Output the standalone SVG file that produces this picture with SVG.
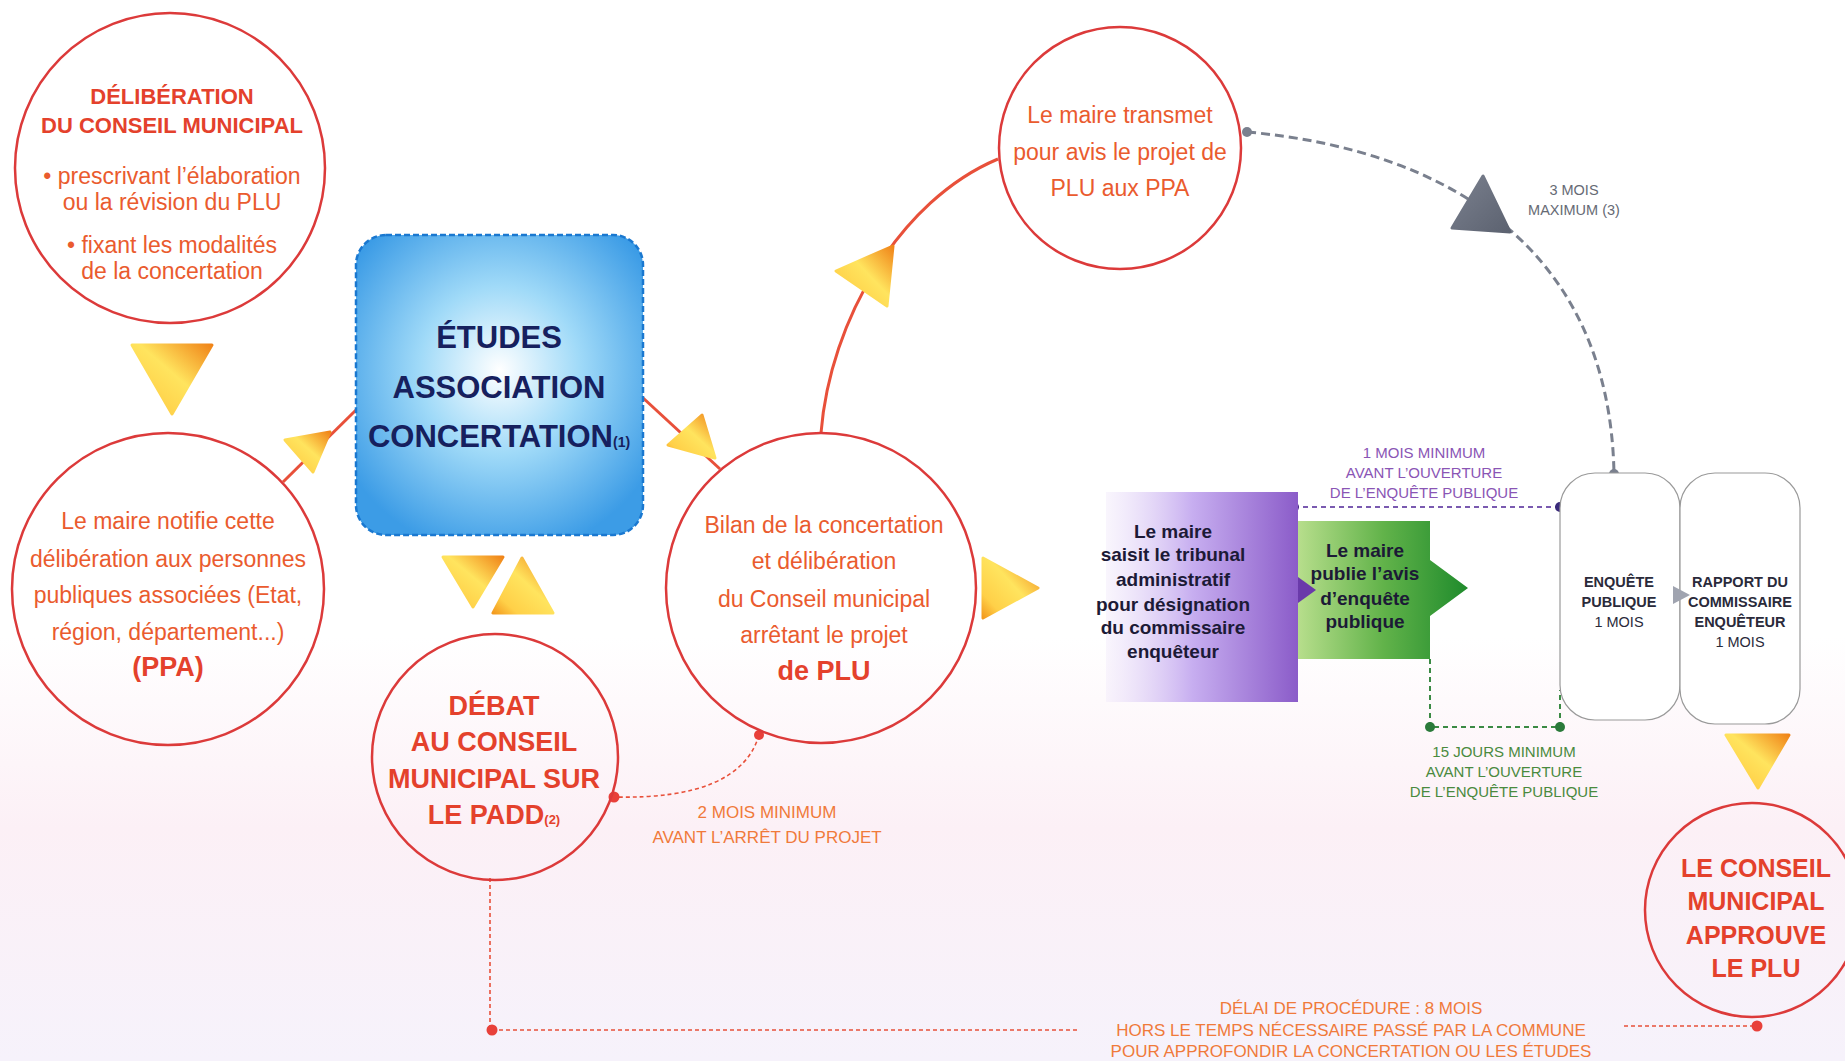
<svg xmlns="http://www.w3.org/2000/svg" width="1845" height="1061" viewBox="0 0 1845 1061">
<defs>
<linearGradient id="bg" x1="0" y1="0" x2="0" y2="1">
<stop offset="0" stop-color="#ffffff"/>
<stop offset="0.6" stop-color="#ffffff"/>
<stop offset="0.78" stop-color="#fcf0f6"/>
<stop offset="1" stop-color="#f6f2fb"/>
</linearGradient>
<linearGradient id="tri" x1="1" y1="0" x2="0" y2="1">
<stop offset="0" stop-color="#f08418"/>
<stop offset="0.45" stop-color="#ffe45e"/>
<stop offset="0.8" stop-color="#ffd048"/>
<stop offset="1" stop-color="#f39a1e"/>
</linearGradient>
<linearGradient id="grayTri" x1="0" y1="0" x2="1" y2="1">
<stop offset="0" stop-color="#7a808e"/>
<stop offset="1" stop-color="#5c6270"/>
</linearGradient>
<radialGradient id="blue" cx="0.5" cy="0.45" r="0.62">
<stop offset="0" stop-color="#ffffff"/>
<stop offset="0.45" stop-color="#a0daf8"/>
<stop offset="1" stop-color="#3c9ce6"/>
</radialGradient>
<linearGradient id="purple" x1="0" y1="0" x2="1" y2="0">
<stop offset="0" stop-color="#f3ecfb" stop-opacity="0.5"/>
<stop offset="0.45" stop-color="#c7aef0"/>
<stop offset="1" stop-color="#8b5cc9"/>
</linearGradient>
<linearGradient id="green" x1="0" y1="0" x2="1" y2="0">
<stop offset="0" stop-color="#b7de8c"/>
<stop offset="0.5" stop-color="#62b34a"/>
<stop offset="1" stop-color="#1f8b2c"/>
</linearGradient>
<style>
.c{fill:none;stroke:#dc3a3a;stroke-width:2.5}
.t{font-family:"Liberation Sans",Arial,sans-serif;text-anchor:middle}
.rg{fill:#ea5b2e;font-size:23px}
.rb{fill:#e4412c;font-weight:bold}
.nv{fill:#16205e;font-weight:bold;font-size:31px}
.dk{fill:#1c1a36;font-weight:bold;font-size:19px}
.sm{font-size:14.5px;fill:#2a2a3a}
.pl{fill:#8a55b5;font-size:15px}
.gl{fill:#4a8a3e;font-size:15px}
.ol{fill:#f07a3a;font-size:17px}
.gy{fill:#666a74;font-size:14.5px}
.tr{fill:url(#tri);stroke:url(#tri);stroke-width:3;stroke-linejoin:round}
.sol{fill:none;stroke:#e8503a;stroke-width:3}
.rd{fill:none;stroke:#e8503a;stroke-width:1.6;stroke-dasharray:4 3}
</style>
</defs>
<rect x="0" y="0" width="1845" height="1061" fill="url(#bg)"/>

<g id="connectors">
<line class="sol" x1="283" y1="482" x2="356" y2="410"/>
<line class="sol" x1="642" y1="397" x2="720" y2="469"/>
<path class="sol" d="M 821 433 C 830 320 900 200 998 159" stroke="#d8382e" stroke-width="2.5"/>
<path d="M 1247 132 C 1450 150 1610 250 1614 474" fill="none" stroke="#7a808e" stroke-width="3" stroke-dasharray="9 5"/>
<circle cx="1247" cy="132" r="5" fill="#7a808e"/>
<circle cx="1614" cy="474" r="5" fill="#7a808e"/>
<polygon points="1483,176 1452,228 1510,232" fill="url(#grayTri)" stroke="url(#grayTri)" stroke-width="3" stroke-linejoin="round"/>
<line x1="1294" y1="507" x2="1560" y2="507" stroke="#7a5ab0" stroke-width="2" stroke-dasharray="5 4"/>
<circle cx="1294" cy="507" r="5" fill="#4a2a8a"/>
<circle cx="1560" cy="507" r="5" fill="#3a2a7a"/>
<polyline points="1430,659 1430,727 1560,727 1560,690" fill="none" stroke="#3a8a44" stroke-width="2" stroke-dasharray="5 4"/>
<circle cx="1430" cy="727" r="5" fill="#2a7a3a"/>
<circle cx="1560" cy="727" r="5" fill="#2a7a3a"/>
<path class="rd" d="M 759 735 Q 740 800 614 797"/>
<circle cx="759" cy="735" r="5" fill="#e8403a"/>
<circle cx="614" cy="797" r="5.5" fill="#e8403a"/>
<polyline class="rd" points="490,878 490,1030 1080,1030"/>
<circle cx="492" cy="1030" r="5.5" fill="#e8403a"/>
<line class="rd" x1="1624" y1="1026" x2="1757" y2="1026"/>
<circle cx="1757" cy="1026" r="5.5" fill="#e8403a"/>
<polygon class="tr" points="132,345 212,345 172,414"/>
<polygon class="tr" points="285,440 330,432 313,472"/>
<polygon class="tr" points="668,445 702,415 715,458"/>
<polygon class="tr" points="443,557 503,557 473,607"/>
<polygon class="tr" points="493,613 553,613 522,558"/>
<polygon class="tr" points="893,246 887,306 836,271"/>
<polygon class="tr" points="983,558 1038,588 983,618"/>
<polygon class="tr" points="1726,735 1789,735 1758,788"/>
</g>

<g id="deliberation">
<circle class="c" cx="170" cy="168" r="155"/>
<text class="t rb" font-size="22" x="172" y="104">DÉLIBÉRATION</text>
<text class="t rb" font-size="22" x="172" y="133">DU CONSEIL MUNICIPAL</text>
<text class="t rg" x="172" y="184">• prescrivant l’élaboration</text>
<text class="t rg" x="172" y="210">ou la révision du PLU</text>
<text class="t rg" x="172" y="253">• fixant les modalités</text>
<text class="t rg" x="172" y="279">de la concertation</text>
</g>

<g id="notifie">
<circle class="c" cx="168" cy="589" r="156"/>
<text class="t rg" x="168" y="529">Le maire notifie cette</text>
<text class="t rg" x="168" y="567">délibération aux personnes</text>
<text class="t rg" x="168" y="603">publiques associées (Etat,</text>
<text class="t rg" x="168" y="640">région, département...)</text>
<text class="t rb" font-size="27" x="168" y="676">(PPA)</text>
</g>

<g id="etudes">
<rect x="356" y="235" width="287" height="300" rx="30" fill="url(#blue)" stroke="#1a78d0" stroke-width="2.5" stroke-dasharray="6 3"/>
<text class="t nv" x="499" y="348">ÉTUDES</text>
<text class="t nv" x="499" y="398">ASSOCIATION</text>
<text class="t nv" font-size="30" x="499" y="447">CONCERTATION<tspan font-size="14">(1)</tspan></text>
</g>

<g id="debat">
<circle class="c" cx="495" cy="757" r="123"/>
<text class="t rb" font-size="27" x="494" y="715">DÉBAT</text>
<text class="t rb" font-size="27" x="494" y="751">AU CONSEIL</text>
<text class="t rb" font-size="27" x="494" y="788">MUNICIPAL SUR</text>
<text class="t rb" font-size="27" x="494" y="824">LE PADD<tspan font-size="13">(2)</tspan></text>
</g>

<g id="bilan">
<circle class="c" cx="821" cy="588" r="155"/>
<text class="t rg" x="824" y="533">Bilan de la concertation</text>
<text class="t rg" x="824" y="569">et délibération</text>
<text class="t rg" x="824" y="607">du Conseil municipal</text>
<text class="t rg" x="824" y="643">arrêtant le projet</text>
<text class="t rb" font-size="27" x="824" y="680">de PLU</text>
</g>

<g id="transmet">
<circle class="c" cx="1120" cy="148" r="121"/>
<text class="t rg" font-size="22" x="1120" y="123">Le maire transmet</text>
<text class="t rg" font-size="22" x="1120" y="160">pour avis le projet de</text>
<text class="t rg" font-size="22" x="1120" y="196">PLU aux PPA</text>
</g>

<g id="tribunal">
<rect x="1106" y="492" width="192" height="210" fill="url(#purple)"/>
<text class="t dk" x="1173" y="538">Le maire</text>
<text class="t dk" x="1173" y="561">saisit le tribunal</text>
<text class="t dk" x="1173" y="586">administratif</text>
<text class="t dk" x="1173" y="611">pour désignation</text>
<text class="t dk" x="1173" y="634">du commissaire</text>
<text class="t dk" x="1173" y="658">enquêteur</text>
</g>

<g id="avis">
<polygon points="1298,521 1430,521 1430,560 1468,588 1430,616 1430,659 1298,659" fill="url(#green)"/>
<polygon points="1298,577 1316,590 1298,603" fill="#6a3aaa"/>
<text class="t dk" x="1365" y="557">Le maire</text>
<text class="t dk" x="1365" y="580">publie l’avis</text>
<text class="t dk" x="1365" y="605">d’enquête</text>
<text class="t dk" x="1365" y="628">publique</text>
</g>

<g id="enquete">
<rect x="1560" y="473" width="120" height="247" rx="35" fill="#ffffff" stroke="#9a9a9a" stroke-width="1.2"/>
<text class="t sm" font-weight="bold" x="1619" y="587">ENQUÊTE</text>
<text class="t sm" font-weight="bold" x="1619" y="607">PUBLIQUE</text>
<text class="t sm" x="1619" y="627">1 MOIS</text>
</g>

<g id="rapport">
<rect x="1680" y="473" width="120" height="251" rx="35" fill="#ffffff" stroke="#9a9a9a" stroke-width="1.2"/>
<polygon points="1673,586 1690,595 1673,604" fill="#a0a4b0"/>
<text class="t sm" font-weight="bold" x="1740" y="587">RAPPORT DU</text>
<text class="t sm" font-weight="bold" x="1740" y="607">COMMISSAIRE</text>
<text class="t sm" font-weight="bold" x="1740" y="627">ENQUÊTEUR</text>
<text class="t sm" x="1740" y="647">1 MOIS</text>
</g>

<g id="approuve">
<circle class="c" cx="1752" cy="910" r="107"/>
<text class="t rb" font-size="25" x="1756" y="877">LE CONSEIL</text>
<text class="t rb" font-size="25" x="1756" y="910">MUNICIPAL</text>
<text class="t rb" font-size="25" x="1756" y="944">APPROUVE</text>
<text class="t rb" font-size="25" x="1756" y="977">LE PLU</text>
</g>

<g id="labels">
<text class="t pl" x="1424" y="458">1 MOIS MINIMUM</text>
<text class="t pl" x="1424" y="478">AVANT L’OUVERTURE</text>
<text class="t pl" x="1424" y="498">DE L’ENQUÊTE PUBLIQUE</text>
<text class="t gl" x="1504" y="757">15 JOURS MINIMUM</text>
<text class="t gl" x="1504" y="777">AVANT L’OUVERTURE</text>
<text class="t gl" x="1504" y="797">DE L’ENQUÊTE PUBLIQUE</text>
<text class="t gy" x="1574" y="195">3 MOIS</text>
<text class="t gy" x="1574" y="215">MAXIMUM (3)</text>
<text class="t ol" x="767" y="818">2 MOIS MINIMUM</text>
<text class="t ol" x="767" y="843">AVANT L’ARRÊT DU PROJET</text>
<text class="t ol" x="1351" y="1014">DÉLAI DE PROCÉDURE : 8 MOIS</text>
<text class="t ol" x="1351" y="1036">HORS LE TEMPS NÉCESSAIRE PASSÉ PAR LA COMMUNE</text>
<text class="t ol" x="1351" y="1057">POUR APPROFONDIR LA CONCERTATION OU LES ÉTUDES</text>
</g>
</svg>
